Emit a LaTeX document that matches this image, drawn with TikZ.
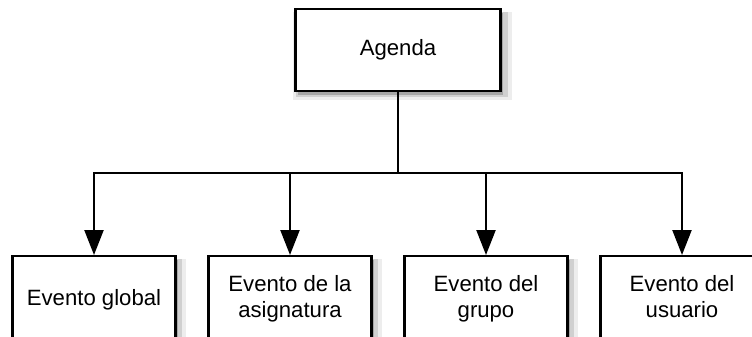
\documentclass[tikz,border=0pt]{standalone}
\usepackage{fontspec}
\setmainfont{Liberation Sans}
\usetikzlibrary{arrows.meta,positioning,shadows}

\begin{document}
\begin{tikzpicture}[
    box/.style={rectangle, draw, line width=1.3pt, fill=white, align=center,
      font=\fontsize{12.6}{15}\selectfont, execute at end node=\strut,
      general shadow={shadow xshift=2.5pt, shadow yshift=-3pt, shadow scale=1.07, fill=black, opacity=0.07},
      general shadow={shadow xshift=2pt, shadow yshift=-2.5pt, shadow scale=1.035, fill=black, opacity=0.12},
      general shadow={shadow xshift=1.5pt, shadow yshift=-2pt, fill=black, opacity=0.2}},
    rootbox/.style={box, minimum width=4.1cm, minimum height=1.64cm},
    eventbox/.style={box, minimum width=3.26cm, minimum height=1.76cm, anchor=north},
    link/.style={line width=1.3pt},
    arrow/.style={link, -{Triangle[length=0.5cm, width=0.38cm]}}
]
\useasboundingbox (0,0) rectangle (15.04,6.72);
\clip (0,0) rectangle (15.04,6.72);

% Root
\node[rootbox] (agenda) at (7.96,5.72) {Agenda};
\coordinate (bus) at (7.96,3.26);

% Events
\node[eventbox] (global) at (1.88,1.62) {Evento global};
\node[eventbox] (asignatura) at (5.80,1.62) {Evento de la\\asignatura};
\node[eventbox] (grupo) at (9.72,1.62) {Evento del\\grupo};
\node[eventbox] (usuario) at (13.64,1.62) {Evento del\\usuario};

% Edges
\draw[link] (agenda) -- (bus);
\draw[arrow] (bus) -| (global);
\draw[arrow] (bus) -| (asignatura);
\draw[arrow] (bus) -| (grupo);
\draw[arrow] (bus) -| (usuario);
\end{tikzpicture}
\end{document}
